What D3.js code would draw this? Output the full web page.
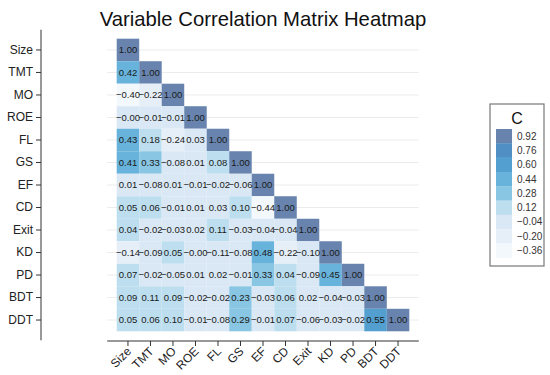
<!DOCTYPE html>
<html>
<head>
<meta charset="utf-8">
<script src="https://cdn.jsdelivr.net/npm/d3@7"></script>
<style>
  body { margin: 0; background: #fff; }
  svg { font-family: Arial, "Liberation Sans", sans-serif; }
</style>
</head>
<body>
<svg id="chart" width="550" height="375"></svg>
<script>
// 変数名（行・列とも同じ順）
const variables = ['Size', 'TMT', 'MO', 'ROE', 'FL', 'GS', 'EF', 'CD', 'Exit', 'KD', 'PD', 'BDT', 'DDT'];

// 下三角の相関係数（-0 は "−0.00" と表示する）
const corrRows = [
  [1.00],
  [0.42, 1.00],
  [-0.40, -0.22, 1.00],
  [-0, -0.01, -0.01, 1.00],
  [0.43, 0.18, -0.24, 0.03, 1.00],
  [0.41, 0.33, -0.08, 0.01, 0.08, 1.00],
  [0.01, -0.08, 0.01, -0.01, -0.02, -0.06, 1.00],
  [0.05, 0.06, -0.01, 0.01, 0.03, 0.10, -0.44, 1.00],
  [0.04, -0.02, -0.03, 0.02, 0.11, -0.03, -0.04, -0.04, 1.00],
  [-0.14, -0.09, 0.05, -0, -0.11, -0.08, 0.48, -0.22, -0.10, 1.00],
  [0.07, -0.02, -0.05, 0.01, 0.02, -0.01, 0.33, 0.04, -0.09, 0.45, 1.00],
  [0.09, 0.11, 0.09, -0.02, -0.02, 0.23, -0.03, 0.06, 0.02, -0.04, -0.03, 1.00],
  [0.05, 0.06, 0.10, -0.01, -0.08, 0.29, -0.01, 0.07, -0.06, -0.03, -0.02, 0.55, 1.00]
];

// 凡例のラベル（ビンの中心値）と色（低い方から）
const legendTicks = [-0.36, -0.20, -0.04, 0.12, 0.28, 0.44, 0.60, 0.76, 0.92];
const legendColors = ['#f3f8fc', '#e6eff8', '#d9e8f4', '#bcdeef', '#88c6e3', '#68b3db', '#529fd0', '#4f8fc4', '#6884ae'];

const svg = d3.select('#chart');

const x = d3.scaleBand().domain(variables).range([116.7, 409.3]);
const y = d3.scaleBand().domain(variables).range([38.7, 331.3]);

// ビン幅 0.16 で -0.44〜1.00 を9分割
const color = d3.scaleQuantize().domain([-0.44, 1.00]).range(legendColors);

const fmt = v => ((v < 0 || Object.is(v, -0)) ? '\u2212' : '') + Math.abs(v).toFixed(2);

const cells = [];
corrRows.forEach((row, i) => {
  row.forEach((v, j) => {
    cells.push({ row: variables[i], col: variables[j], value: v });
  });
});

// タイトル
svg.append('text')
  .attr('x', 263)
  .attr('y', 26)
  .attr('text-anchor', 'middle')
  .attr('font-size', 20.3)
  .attr('fill', '#111')
  .text('Variable Correlation Matrix Heatmap');

// 横のグリッド線
const xPad = 9.5;
svg.append('g')
  .selectAll('line')
  .data(variables)
  .join('line')
  .attr('x1', x.range()[0] - xPad)
  .attr('x2', x.range()[1] + xPad)
  .attr('y1', d => y(d) + y.bandwidth() / 2)
  .attr('y2', d => y(d) + y.bandwidth() / 2)
  .attr('stroke', '#ececec')
  .attr('stroke-width', 1);

// セル
const cellG = svg.append('g');
cellG.selectAll('rect')
  .data(cells)
  .join('rect')
  .attr('x', d => x(d.col))
  .attr('y', d => y(d.row))
  .attr('width', x.bandwidth())
  .attr('height', y.bandwidth())
  .attr('fill', d => color(d.value));

cellG.selectAll('text')
  .data(cells)
  .join('text')
  .attr('x', d => x(d.col) + x.bandwidth() / 2)
  .attr('y', d => y(d.row) + y.bandwidth() / 2)
  .attr('dy', '0.35em')
  .attr('text-anchor', 'middle')
  .attr('font-size', 9.5)
  .attr('fill', '#1a1a1a')
  .text(d => fmt(d.value));

// Y軸
const yAxisX = 41;
const yAxis = svg.append('g')
  .attr('transform', `translate(${yAxisX},0)`)
  .call(d3.axisLeft(y).tickSize(5).tickPadding(3).tickSizeOuter(0));
yAxis.select('.domain').remove();
yAxis.append('line')
  .attr('y1', y.range()[0] - 9)
  .attr('y2', y.range()[1] + 9)
  .attr('stroke', '#333');
yAxis.selectAll('.tick line').attr('stroke', '#333');
yAxis.selectAll('.tick text')
  .attr('font-size', 12)
  .attr('font-family', 'Arial, "Liberation Sans", sans-serif')
  .attr('fill', '#222');

// X軸
const xAxisY = 341;
const xAxis = svg.append('g')
  .attr('transform', `translate(0,${xAxisY})`)
  .call(d3.axisBottom(x).tickSize(5).tickSizeOuter(0));
xAxis.select('.domain').remove();
xAxis.append('line')
  .attr('x1', x.range()[0] - xPad)
  .attr('x2', x.range()[1] + xPad)
  .attr('stroke', '#333');
xAxis.selectAll('.tick line').attr('stroke', '#333');
xAxis.selectAll('.tick text')
  .attr('font-size', 12)
  .attr('font-family', 'Arial, "Liberation Sans", sans-serif')
  .attr('fill', '#222')
  .attr('text-anchor', 'end')
  .attr('x', 0)
  .attr('y', 0)
  .attr('dy', 0)
  .attr('transform', 'translate(4,11) rotate(-45)');

// 凡例
const legend = svg.append('g');
legend.append('rect')
  .attr('x', 490)
  .attr('y', 104)
  .attr('width', 54)
  .attr('height', 162)
  .attr('fill', '#fff')
  .attr('stroke', '#777')
  .attr('stroke-width', 1.2);
legend.append('text')
  .attr('x', 517)
  .attr('y', 124)
  .attr('text-anchor', 'middle')
  .attr('font-size', 16)
  .attr('fill', '#111')
  .text('C');

const swatchH = 14.3;
const legendItems = legendTicks.map((t, i) => ({ t, c: legendColors[i] })).reverse();
const items = legend.selectAll('g.item')
  .data(legendItems)
  .join('g')
  .attr('class', 'item')
  .attr('transform', (d, i) => `translate(496,${129 + i * swatchH})`);
items.append('rect')
  .attr('width', 16)
  .attr('height', swatchH + 0.3)
  .attr('fill', d => d.c);
items.append('text')
  .attr('x', 21)
  .attr('y', swatchH / 2)
  .attr('dy', '0.35em')
  .attr('font-size', 10)
  .attr('fill', '#333')
  .text(d => fmt(d.t));
</script>
</body>
</html>
